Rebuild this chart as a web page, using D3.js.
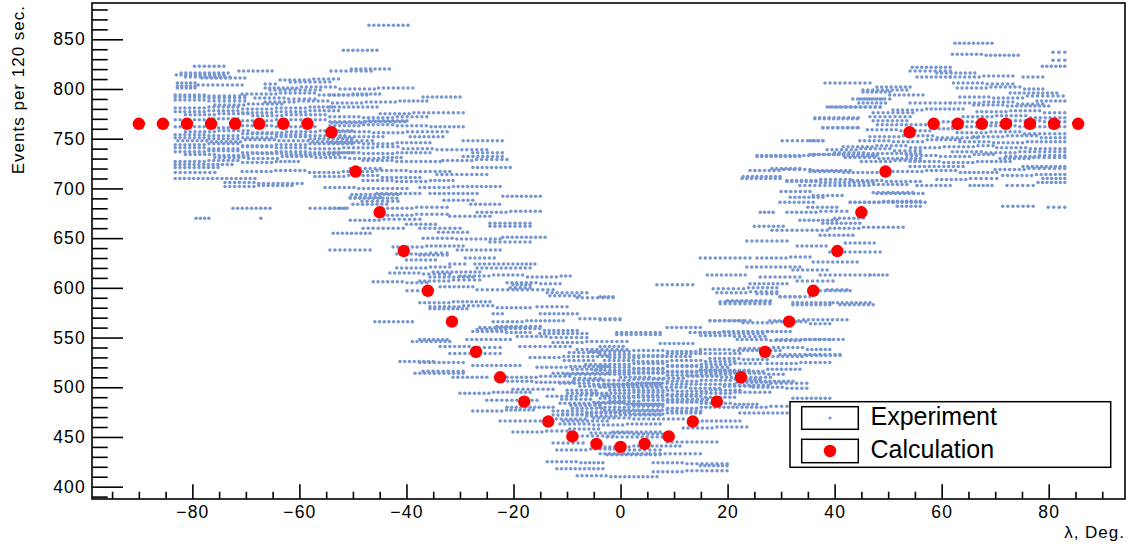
<!DOCTYPE html>
<html>
<head>
<meta charset="utf-8">
<script src="https://cdn.jsdelivr.net/npm/d3@7"></script>
<style>
  body { margin: 0; background: #fff; }
  svg { display: block; }
  text { font-family: "Liberation Sans", Arial, Helvetica, sans-serif; fill: #000; }
</style>
</head>
<body>
<svg id="chart" width="1133" height="548"></svg>
<script>
// Calculated count rate versus angle λ (degrees)
const calcAngle = [-90, -85.5, -81, -76.5, -72, -67.5, -63, -58.5, -54, -49.5,
                   -45, -40.5, -36, -31.5, -27, -22.5, -18, -13.5, -9, -4.5,
                   0, 4.5, 9, 13.5, 18, 22.5, 27, 31.5, 36, 40.5,
                   45, 49.5, 54, 58.5, 63, 67.5, 72, 76.5, 81, 85.5];
const calcEvents = [765, 765, 765, 765, 765, 765, 765, 765, 756.5, 717,
                    676, 637, 597, 566, 535.5, 510, 485.5, 465.5, 450.5, 443,
                    440, 443, 450.5, 465.5, 485.5, 510, 535.5, 566, 597, 637,
                    676, 717, 756.5, 765, 765, 765, 765, 765, 765, 765];

// Measured counts: runs of consecutive 120 s readings that gave the same count.
// Each entry: [first angle, last angle, events per 120 s]
const expRuns = [
  // λ < -50
  [-79.6,-74.1,823],[-71.3,-65.1,818],[-50.3,-43.2,820],[-54.1,-46.6,818],[-82.1,-73.3,816],
  [-83.0,-74.1,814],[-81.3,-73.0,812],[-78.2,-70.2,811],[-66.4,-64.5,805],[-63.6,-58.2,809],
  [-57.3,-52.7,810],[-61.7,-54.3,807],[-82.8,-79.5,806],[-82.8,-79.5,803],[-82.8,-79.5,801],
  [-78.9,-70.7,804],[-66.4,-60.5,801],[-59.6,-53.3,802],[-52.4,-46.0,800],[-45.2,-38.8,801],
  [-65.5,-56.1,799],[-70.7,-64.4,795],[-63.5,-57.2,796],[-56.3,-50.9,794],[-50.0,-45.0,795],
  [-83.2,-77.8,794],[-76.9,-70.2,793],[-83.2,-77.8,792],[-76.9,-70.2,791],[-83.2,-77.8,789],
  [-76.9,-70.2,788],[-68.3,-62.9,791],[-62.0,-57.1,790],[-66.4,-61.0,787],[-60.1,-54.7,788],
  [-53.8,-48.4,786],[-47.5,-42.1,787],[-41.2,-36.2,788],[-75.8,-70.4,784],[-69.5,-63.3,785],
  [-83.2,-77.8,781],[-76.9,-71.5,782],[-70.6,-65.2,780],[-64.3,-58.9,781],[-58.0,-53.9,782],
  [-83.2,-77.8,777],[-76.9,-71.5,778],[-70.6,-65.2,776],[-64.3,-58.9,777],[-58.0,-52.7,778],
  [-81.3,-75.9,774],[-75.0,-69.6,775],[-68.7,-63.3,773],[-62.4,-55.2,774],
  [-54.3,-48.9,772],[-48.0,-42.6,771],[-41.7,-36.2,772],
  [-83.2,-77.8,769],[-76.9,-71.5,770],[-70.6,-65.2,768],[-64.3,-55.2,769],
  [-53.9,-48.5,766],[-47.6,-40.3,767],
  [-83.2,-77.8,762],[-76.9,-71.5,761],[-70.6,-65.2,763],[-64.3,-57.1,762],
  [-81.3,-75.9,757],[-75.0,-69.6,758],[-68.7,-63.3,756],[-62.4,-57.0,757],[-56.1,-50.2,758],
  [-83.2,-77.8,754],[-76.9,-71.5,753],[-70.6,-65.2,755],[-64.3,-58.9,754],[-58.0,-51.5,753],
  [-83.2,-77.8,751],[-76.9,-71.5,750],[-70.6,-65.2,751],[-64.3,-58.9,752],[-58.0,-50.2,750],
  [-82.7,-77.3,748],[-76.4,-71.0,747],[-70.1,-64.7,749],[-63.8,-58.4,748],[-57.5,-52.1,747],
  [-51.2,-46.4,748],
  [-83.2,-77.8,744],[-76.9,-71.5,745],[-70.6,-65.2,743],[-64.3,-58.9,744],[-58.0,-50.2,745],
  [-83.2,-77.8,741],[-76.9,-71.5,740],[-70.6,-65.2,742],[-64.3,-58.9,741],[-58.0,-52.6,740],
  [-51.7,-46.3,741],[-45.4,-41.6,742],
  [-83.2,-77.8,737],[-76.9,-71.5,738],[-70.6,-65.2,736],[-64.3,-58.9,737],[-58.0,-50.2,736],
  [-81.3,-75.9,734],[-75.0,-69.6,733],[-68.7,-63.3,735],[-62.4,-52.7,734],
  [-75.8,-70.4,731],[-69.5,-64.1,730],[-63.2,-57.8,732],[-56.9,-51.5,731],[-50.6,-45.2,730],
  [-44.3,-41.0,731],
  [-83.2,-77.8,727],[-76.9,-71.5,728],[-70.6,-65.2,726],[-64.3,-60.2,727],
  [-83.2,-72.6,724],[-83.2,-75.2,721],
  [-70.7,-65.3,717],[-64.4,-59.0,718],[-58.1,-52.7,716],[-51.8,-46.4,717],[-45.5,-40.1,718],
  [-39.2,-31.9,717],[-83.2,-75.8,716],
  [-57.1,-51.7,712],[-50.8,-45.4,713],[-44.5,-37.5,711],
  [-83.2,-78.9,710],[-78.0,-68.3,710],[-73.9,-68.5,706],[-67.6,-59.5,705],[-73.9,-68.5,702],
  [-67.6,-61.4,703],[-55.2,-49.8,701],[-48.9,-39.9,700],[-50.2,-41.6,694],[-48.3,-41.6,687],
  [-72.4,-65.5,680],[-58.0,-51.5,680],[-79.3,-76.9,670],[-67.2,-67.2,670],
  // -55 < λ < -15
  [-47.0,-39.7,864],[-51.8,-45.5,839],[-54.3,-47.4,794],[-36.9,-30.0,792],[-54.3,-45.5,782],
  [-44.9,-39.5,775],[-38.6,-29.4,776],[-54.3,-47.9,767],[-47.0,-39.9,768],
  [-54.3,-48.9,763],[-48.0,-42.6,764],[-41.7,-36.3,763],[-35.4,-29.4,762],
  [-52.4,-47.0,757],[-46.1,-40.7,756],[-39.8,-32.4,757],[-52.4,-44.4,752],
  [-39.3,-33.2,752],[-29.4,-22.1,748],[-54.3,-48.9,746],[-48.0,-42.6,745],[-41.7,-35.6,746],
  [-40.6,-35.2,740],[-34.3,-25.0,739],[-54.3,-48.9,736],[-48.0,-42.6,735],[-41.7,-35.6,736],
  [-27.6,-22.1,736],[-29.4,-22.1,732],[-48.1,-42.7,728],[-41.8,-33.7,727],[-33.2,-27.8,728],
  [-26.9,-21.2,729],[-27.6,-20.6,721],[-50.5,-44.9,720],[-34.3,-25.0,714],
  [-48.1,-42.7,708],[-41.8,-36.4,707],[-35.5,-31.3,708],[-37.5,-32.1,701],[-31.2,-22.5,702],
  [-45.5,-37.5,695],[-35.6,-26.8,695],[-22.0,-15.0,692],[-50.5,-44.9,691],[-50.5,-41.8,690],
  [-33.0,-27.6,688],[-28.0,-22.6,684],
  [-50.0,-43.7,684],[-54.3,-51.1,680],[-44.4,-39.0,680],[-38.1,-32.4,681],[-26.8,-21.4,676],
  [-20.5,-15.0,677],[-44.4,-39.0,673],[-38.1,-32.4,674],[-31.9,-24.4,672],[-50.5,-45.1,668],
  [-44.2,-37.5,669],[-24.4,-16.9,665],[-24.4,-16.9,662],[-48.1,-40.6,660],[-37.5,-30.0,660],
  [-40.0,-34.6,664],[-34.0,-28.6,656],
  [-53.7,-46.8,655],[-22.0,-14.1,651],[-36.9,-31.5,650],[-30.6,-22.5,649],[-24.4,-16.9,646],
  [-42.5,-37.1,641],[-36.2,-29.4,642],[-54.3,-46.8,638],[-30.5,-22.5,638],[-41.8,-36.4,634],
  [-35.5,-32.4,635],[-37.5,-32.4,633],[-29.0,-23.6,630],[-40.0,-34.6,628],
  [-31.9,-29.1,624],[-27.2,-20.1,624],[-19.2,-16.0,624],
  [-41.8,-36.4,620],[-35.5,-31.9,621],[-26.8,-16.9,620],[-35.0,-26.3,616],[-43.1,-37.7,615],
  [-36.8,-31.9,614],[-30.0,-24.6,612],[-23.7,-18.3,613],[-17.4,-12.0,611],[-11.1,-9.4,612],
  [-35.6,-27.6,611],[-46.2,-40.8,606],[-39.9,-36.2,605],[-37.5,-32.1,607],[-31.2,-26.3,608],
  [-21.2,-15.8,605],[-14.9,-11.3,604],[-20.1,-16.9,603],[-33.7,-27.6,601],[-20.6,-16.9,600],
  [-26.8,-20.1,598],[-19.3,-12.6,598],[-39.9,-36.9,597],[-13.7,-6.3,595],[-8.1,-1.4,590],
  [-13.2,-7.7,592],[-37.5,-32.1,585],[-31.2,-24.4,586],[-35.6,-30.2,581],[-29.3,-23.9,582],
  [-23.0,-16.9,580],[-15.6,-10.0,581],[-35.6,-28.7,579],[-23.8,-22.1,574],[-15.0,-8.1,574],
  [-7.6,-0.1,569],[-45.9,-38.9,566],[-23.8,-18.4,566],[-17.5,-10.7,567],[-23.1,-15.0,561],
  [-26.3,-16.9,560],[-26.8,-21.4,558],[-20.5,-15.1,559],[-14.2,-8.1,557],[-27.6,-22.2,556],
  [-21.3,-16.9,555],[-15.1,-6.3,554],[-19.3,-13.9,551],[-13.0,-6.3,550],[-38.9,-31.9,546],
  [-37.5,-32.4,548],[-28.7,-20.6,548],[-12.6,-7.2,545],[-6.3,1.2,546],[-33.7,-28.3,541],
  [-27.4,-22.5,540],[-18.8,-9.4,541],[-8.1,1.2,538],[-31.9,-22.5,534],[-16.9,-11.5,530],
  [-9.6,-4.2,535],[-10.5,-5.1,527],[-9.0,-3.6,518],[-10.2,-4.8,513],[-8.7,-3.3,507],
  [-9.9,-4.5,494],[-9.3,-3.9,482],[-10.8,-5.4,473],
  [-10.6,-2.5,531],[-41.2,-35.0,526],[-37.5,-29.4,525],[-27.6,-18.8,522],[-15.6,-10.2,520],
  [-9.3,-2.5,521],[-36.9,-29.4,516],[-38.4,-29.4,514],[-12.6,-2.5,514],[-31.3,-25.0,510],
  [-21.2,-15.8,510],[-14.9,-9.5,511],[-8.6,-3.8,509],[-22.0,-16.6,506],[-15.7,-8.9,505],
  [-11.3,-5.9,504],[-5.0,0.4,503],[1.3,7.4,504],[-7.6,-2.2,501],[-1.3,7.4,502],
  [-20.1,-12.6,498],[-10.0,-4.6,497],[-30.0,-24.6,494],[-23.7,-16.9,495],[-13.7,-8.3,491],
  [-7.4,-2.5,492],[-11.0,-5.6,488],
  [-25.0,-15.6,487],[-11.3,-5.9,484],[-5.0,0.4,485],[1.3,7.4,483],[-21.2,-12.6,480],
  [-9.0,-3.6,479],
  [-27.6,-22.2,476],[-21.3,-16.3,477],[-12.6,-7.2,476],[-6.3,-0.9,475],[0.0,7.4,476],
  [-12.6,-7.2,472],[-6.3,-0.9,471],[0.0,7.4,472],[-22.5,-15.0,466],[-10.7,-2.5,466],
  [-12.0,-6.6,468],[-9.5,-4.1,458],
  [-11.3,-5.9,463],[-5.0,0.4,462],[1.3,7.4,463],[-20.1,-14.7,455],[-13.8,-10.0,456],
  [-1.4,7.4,455],[-8.1,-1.4,451],[-12.6,-7.0,444],[-11.9,-6.5,437],[-5.6,-0.2,438],
  [0.7,7.4,437],[-2.5,7.4,432],[-13.7,-8.3,425],[-7.4,-3.3,424],[-11.9,-3.3,418],
  // -5 < λ < 40
  [-3.8,-1.4,591],[18.0,23.4,595],[24.3,29.2,596],[29.8,33.5,591],[18.6,27.9,584],
  [20.0,28.0,587],[32.2,39.1,583],[-3.8,-0.1,568],[16.7,22.9,567],[22.9,28.3,565],
  [29.2,34.6,566],[35.5,39.1,564],[8.7,14.9,560],[-0.7,7.4,553],[-0.7,7.4,555],
  [13.0,18.4,555],[19.3,27.4,556],[15.0,20.4,552],[21.3,27.0,551],[29.2,39.1,548],
  [7.4,13.5,544],[-3.8,0.5,541],[22.3,27.7,539],[28.6,34.0,540],[34.9,39.1,538],
  [-5.6,1.6,536],[2.5,7.9,537],[8.8,14.9,536],[-3.8,1.6,533],[2.5,7.9,532],
  [8.8,14.9,534],[-2.0,3.4,530],[4.3,13.0,531],[14.9,22.3,534],[16.7,22.1,529],
  [23.0,27.4,528],[27.4,32.8,524],[33.7,39.1,525],
  [-3.0,2.4,527],[3.3,8.7,526],[9.6,15.0,527],[15.9,21.3,526],
  [-6.5,1.6,523],[2.5,7.9,524],[8.8,14.2,522],[15.1,20.5,523],[21.4,26.1,524],
  [-3.8,1.6,520],[2.5,7.9,519],[8.8,14.2,521],[15.1,20.0,520],
  [-4.7,1.6,517],[2.5,7.9,518],[8.8,14.2,516],[15.1,24.0,517],
  [-2.0,3.4,515],[4.3,9.7,515],[10.6,16.0,515],[16.9,22.3,515],
  [-3.8,1.6,513],[2.5,7.9,514],[8.8,14.2,512],[15.1,20.5,513],[21.4,26.8,514],[27.7,30.4,513],
  [0.0,5.4,510],[6.3,11.7,509],[12.6,18.0,511],[18.9,28.0,510],
  [-6.0,1.6,507],[2.5,7.9,508],[8.8,14.2,506],[15.1,20.5,507],[21.4,26.0,508],
  [-3.0,2.4,503],[3.3,8.7,504],[9.6,15.0,503],[15.9,21.3,503],[22.2,27.6,502],
  [23.6,32.2,506],[-3.8,6.8,500],[6.8,12.2,500],[13.1,18.5,499],[19.4,24.2,501],
  [24.8,30.2,500],[31.1,34.8,499],
  [-2.0,3.4,497],[4.3,9.7,497],[10.6,16.0,496],[16.9,22.3,497],
  [-5.2,1.6,494],[2.5,7.9,495],[8.8,14.2,493],[15.1,20.5,494],[21.4,27.9,495],
  [-3.0,2.4,491],[3.3,8.7,492],[9.6,15.0,491],[15.9,21.3,490],
  [-3.8,1.6,489],[2.5,7.9,490],[8.8,16.2,488],[32.2,39.1,489],
  [-2.0,3.4,486],[4.3,9.7,487],[10.6,16.0,486],
  [-4.6,1.6,484],[2.5,7.9,483],[8.8,14.2,485],[15.1,20.5,484],[21.4,25.5,483],
  [-3.8,1.6,480],[2.5,7.9,481],[8.8,14.2,479],[15.1,21.0,480],[21.8,27.2,480],[28.1,31.1,481],
  [-3.0,2.4,477],[3.3,8.7,477],[9.6,15.0,476],
  [-6.3,1.6,474],[2.5,7.9,473],[8.8,14.9,474],[22.3,31.1,474],[-5.0,1.6,469],[2.5,11.7,468],
  [13.5,22.3,466],[11.7,17.1,459],[18.0,23.6,460],[-5.5,1.6,454],[2.5,8.7,453],
  [-2.5,8.7,450],[8.7,18.0,445],[-3.8,1.6,440],[2.5,11.1,441],[-3.8,4.9,433],
  [5.5,14.9,433],[6.1,11.5,424],[12.4,19.9,423],[14.9,19.9,421],[6.1,11.5,415],
  [12.4,19.9,416],[-8.1,-2.7,411],[-1.8,6.8,410],
  [6.8,13.5,603],[38.6,42.3,598],[41.0,47.2,583],[29.8,41.0,533],
  // 15 < λ < 57
  [30.2,37.8,748],[25.5,36.0,733],[36.0,47.2,734],[38.6,44.0,739],[44.9,50.3,740],
  [51.2,56.0,738],[40.0,45.4,736],[46.3,56.0,735],[42.0,47.4,731],[48.3,56.0,730],
  [45.0,50.4,727],[51.3,56.0,728],[24.2,29.6,718],[30.5,35.4,719],[36.0,42.9,718],
  [22.9,29.8,712],[31.1,36.5,708],[37.4,42.9,709],[43.4,48.8,708],[49.7,56.0,707],
  [33.5,41.0,703],[41.0,46.4,703],[47.3,53.5,704],[47.2,54.6,696],[31.7,37.8,691],
  [30.0,35.4,697],[36.0,41.4,693],[35.0,40.4,681],
  [29.8,36.0,686],[42.9,48.3,686],[49.2,56.0,687],[51.7,56.0,682],[26.1,28.5,676],
  [31.1,36.5,676],[37.4,42.3,677],[40.0,45.4,670],[33.5,40.4,668],[37.8,44.7,665],
  [25.0,30.4,662],[39.1,44.5,660],
  [45.4,52.8,661],[28.3,38.6,658],[37.3,43.4,653],[23.6,31.1,647],[42.0,47.4,645],
  [33.0,38.4,642],[39.1,48.5,636],
  [14.9,24.2,630],[25.5,30.9,630],[31.8,35.4,631],[36.0,44.2,626],[23.6,33.5,621],
  [32.2,38.6,618],[16.2,23.3,613],[37.3,46.6,613],[46.6,49.8,613],[26.1,33.5,611],
  [33.0,39.7,607],[24.2,31.1,604],[17.3,23.0,599],[23.9,29.2,600],[37.3,42.9,597],
  [25.5,29.2,594],[29.8,35.4,591],[18.6,27.9,586],[32.2,39.1,585],[39.7,46.6,585],
  [16.7,24.2,567],[27.9,33.3,567],[34.2,42.3,568],[14.9,20.3,555],[21.2,26.6,554],
  [27.5,31.7,556],[21.8,27.2,548],[28.1,33.5,547],[34.4,41.6,548],[14.9,20.3,538],
  [21.2,29.8,537],[28.5,33.9,531],[34.8,41.0,532],[14.9,20.3,517],[21.2,26.6,516],
  [27.5,33.5,518],[21.8,27.2,505],[28.1,34.8,504],
  [38.2,46.6,806],[45.3,53.5,799],[43.4,48.8,790],[38.6,48.5,782],[36.3,44.4,771],
  [37.8,44.4,761],[25.5,33.5,732],[28.3,33.5,720],[22.7,29.8,710],[31.1,36.5,707],
  [37.4,47.2,706],[44.5,49.5,786],[47.2,54.6,776],[48.0,57.0,764],
  // λ > 50
  [62.5,69.4,846],[80.8,83.0,837],[62.0,67.4,835],[68.3,74.3,834],[80.8,83.0,829],
  [78.8,83.0,823],[54.5,61.6,822],[54.1,61.6,818],[59.1,66.2,816],[55.4,61.6,812],
  [61.6,67.0,812],[67.9,73.3,813],[75.2,78.9,812],[62.2,67.6,806],[68.5,73.3,805],
  [47.9,54.1,802],[62.9,68.3,801],[69.2,74.6,802],[75.5,78.9,800],[45.3,50.3,797],
  [72.8,81.5,796],[50.3,56.5,794],[63.4,68.8,792],[69.7,75.1,791],[76.0,82.7,793],
  [44.7,50.3,790],[77.8,83.0,788],[54.1,61.6,786],[61.6,67.0,786],[67.9,73.3,787],
  [74.2,78.9,785],[66.0,71.4,784],[72.3,80.0,783],[39.1,48.5,782],[50.9,56.3,779],
  [57.2,64.0,780],[66.6,72.0,777],[72.9,78.3,778],[79.2,83.0,776],[46.6,54.1,772],
  [64.0,69.4,772],[70.3,75.7,773],[76.6,83.0,771],[36.3,44.2,770],[47.2,53.5,768],
  [60.3,65.7,767],[66.6,72.0,766],[72.9,78.3,768],[79.2,83.0,767],
  [62.0,67.4,762],[68.3,73.7,763],[74.6,83.0,762],[37.8,44.2,761],
  [46.1,51.5,759],[52.4,57.8,758],[58.7,62.9,760],
  [62.9,68.3,756],[69.2,74.6,757],[75.5,83.0,755],
  [46.6,52.0,752],[52.9,58.3,753],[59.2,66.6,751],[66.0,71.4,752],[72.3,77.7,753],[78.6,83.0,751],
  [35.4,37.8,748],[44.7,50.1,748],[51.0,56.4,747],[57.3,63.4,749],
  [63.4,68.8,747],[69.7,75.1,746],[76.0,83.0,747],
  [41.6,47.0,742],[47.9,53.3,743],[54.2,59.6,741],[60.5,65.9,742],[66.8,69.6,743],
  [70.3,75.7,741],[76.6,83.0,740],[62.0,67.4,737],[68.3,73.7,736],[74.6,83.0,737],
  [35.4,40.8,734],[41.7,47.9,733],[53.5,58.9,733],[59.8,65.2,732],[66.1,69.6,734],
  [72.0,77.4,732],[78.3,83.0,733],[70.9,76.3,730],[77.2,83.0,731],
  [54.1,59.5,727],[60.4,65.8,726],[66.7,72.8,727],[75.2,83.0,722],[54.1,64.0,722],
  [70.0,75.4,719],[76.3,83.0,720],[35.4,40.8,717],[41.7,47.9,716],
  [50.9,56.3,717],[57.2,62.6,718],[63.5,70.3,716],[71.4,76.8,713],[77.7,83.0,714],
  [78.9,83.0,710],[59.1,64.5,709],[65.4,70.3,710],[78.0,83.0,706],
  [55.4,61.6,703],[65.3,69.4,703],[72.2,77.1,703],[47.9,56.5,695],[42.9,50.9,686],
  [50.9,56.9,686],[71.4,77.1,682],[79.9,83.0,681]
];

const xTicks = [-80, -60, -40, -20, 0, 20, 40, 60, 80];
const yTicks = [400, 450, 500, 550, 600, 650, 700, 750, 800, 850];
const legendLabels = ["Experiment", "Calculation"];
const xTitle = "λ, Deg.";
const yTitle = "Events per 120 sec.";

const expColor = "#7696d2";
const calcColor = "#ff0000";

const svg = d3.select("#chart");
const frame = { left: 92, top: 3, right: 1125, bottom: 499 };

svg.append("rect").attr("width", 1133).attr("height", 548).attr("fill", "#fff");

const x = d3.scaleLinear().domain([-98.75, 94.25]).range([frame.left, frame.right]);
const y = d3.scaleLinear().domain([387.6, 886.5]).range([frame.bottom, frame.top]);

// Experimental readings: one dot per reading along each run (about 0.9° apart)
const step = 0.9;
const expPoints = expRuns.flatMap(([a0, a1, c]) => {
  const n = Math.max(1, Math.round((a1 - a0) / step) + 1);
  return d3.range(n).map(i => ({ a: n === 1 ? a0 : a0 + (a1 - a0) * i / (n - 1), c }));
});

const plot = svg.append("g");
plot.selectAll("circle.exp").data(expPoints).join("circle")
  .attr("class", "exp")
  .attr("cx", d => x(d.a)).attr("cy", d => y(d.c))
  .attr("r", 1.75).attr("fill", expColor);

const calc = calcAngle.map((a, i) => ({ a, c: calcEvents[i] }));
plot.selectAll("circle.calc").data(calc).join("circle")
  .attr("class", "calc")
  .attr("cx", d => x(d.a)).attr("cy", d => y(d.c))
  .attr("r", 6.2).attr("fill", calcColor);

// Axes: ticks drawn inward, ROOT style
const fmt = d => (d < 0 ? "\u2212" + Math.abs(d) : String(d));
const styleTicks = g => {
  g.select(".domain").remove();
  g.selectAll("line").attr("stroke", "#000").attr("stroke-width", 1.6);
  g.selectAll("text").attr("font-size", 17.5).attr("letter-spacing", 1.2)
    .attr("fill", "#000").style("font-family", '"Liberation Sans", Arial, sans-serif');
};

const xMinor = d3.range(-95, 91, 5).filter(v => v % 20 !== 0);
svg.append("g").attr("transform", `translate(0,${frame.bottom})`)
  .call(d3.axisBottom(x).tickValues(xMinor).tickSize(-7.3).tickFormat(""))
  .call(styleTicks);
svg.append("g").attr("transform", `translate(0,${frame.bottom})`)
  .call(d3.axisBottom(x).tickValues(xTicks).tickSize(-14.7).tickPadding(7).tickFormat(fmt))
  .call(styleTicks);

const yMinor = d3.range(390, 881, 10).filter(v => v % 50 !== 0);
svg.append("g").attr("transform", `translate(${frame.left},0)`)
  .call(d3.axisLeft(y).tickValues(yMinor).tickSize(-15.7).tickFormat(""))
  .call(styleTicks);
svg.append("g").attr("transform", `translate(${frame.left},0)`)
  .call(d3.axisLeft(y).tickValues(yTicks).tickSize(-31).tickPadding(6).tickFormat(fmt))
  .call(styleTicks);

// Frame
svg.append("rect")
  .attr("x", frame.left).attr("y", frame.top)
  .attr("width", frame.right - frame.left).attr("height", frame.bottom - frame.top)
  .attr("fill", "none").attr("stroke", "#000").attr("stroke-width", 1.6);

// Axis titles
svg.append("text")
  .attr("transform", `translate(24,5) rotate(-90)`)
  .attr("text-anchor", "end").attr("font-size", 17).attr("letter-spacing", 1)
  .text(yTitle);
svg.append("text")
  .attr("x", frame.right).attr("y", 538.3)
  .attr("text-anchor", "end").attr("font-size", 17).attr("letter-spacing", 1)
  .text(xTitle);

// Legend
const legend = svg.append("g");
legend.append("rect")
  .attr("x", 790).attr("y", 401.7).attr("width", 320.7).attr("height", 65.6)
  .attr("fill", "#fff").attr("stroke", "#000").attr("stroke-width", 1.5);
const rows = [
  { label: legendLabels[0], boxY: 406.7, boxH: 22.6, cy: 418, r: 1.6, color: expColor, base: 425 },
  { label: legendLabels[1], boxY: 439.3, boxH: 23.4, cy: 451, r: 6.2, color: calcColor, base: 457.7 }
];
const entry = legend.selectAll("g.entry").data(rows).join("g").attr("class", "entry");
entry.append("rect")
  .attr("x", 801.7).attr("y", d => d.boxY).attr("width", 56.6).attr("height", d => d.boxH)
  .attr("fill", "#fff").attr("stroke", "#000").attr("stroke-width", 1.5);
entry.append("circle")
  .attr("cx", 830).attr("cy", d => d.cy).attr("r", d => d.r).attr("fill", d => d.color);
entry.append("text")
  .attr("x", 870.5).attr("y", d => d.base).attr("font-size", 25)
  .text(d => d.label);
</script>
</body>
</html>
